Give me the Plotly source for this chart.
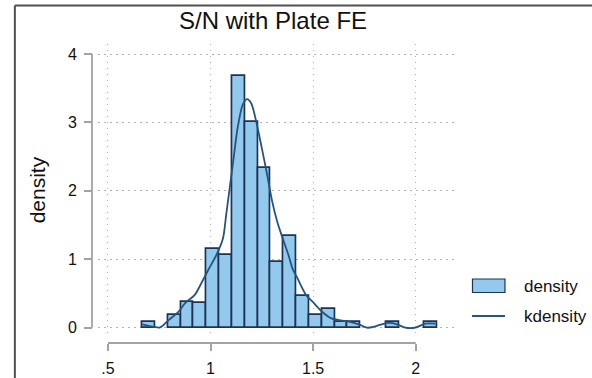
import numpy as np
import plotly.graph_objects as go

# Histogram of S/N (plate fixed effects): 23 equal-width bins
bin_start = 0.668
bin_width = 0.0625
bin_density = [0.09, 0.0, 0.18, 0.37, 0.36, 1.15, 1.06, 3.68, 3.01, 2.33,
               0.96, 1.34, 0.47, 0.18, 0.27, 0.09, 0.09, 0.0, 0.0, 0.09,
               0.0, 0.0, 0.09]

# Kernel density estimate evaluated along the data range
kd_x = [0.668, 0.71, 0.754, 0.795, 0.843, 0.876, 0.923, 0.955, 0.988, 1.028,
        1.06, 1.077, 1.109, 1.133, 1.157, 1.178, 1.198, 1.222, 1.25, 1.275,
        1.30, 1.325, 1.35, 1.38, 1.40, 1.424, 1.465, 1.497, 1.545, 1.586,
        1.626, 1.675, 1.723, 1.763, 1.803, 1.835, 1.868, 1.909, 1.949, 1.998,
        2.047, 2.095]
kd_y = [0.05, 0.02, 0.005, 0.11, 0.23, 0.36, 0.48, 0.65, 0.84, 1.06,
        1.30, 1.67, 2.40, 2.94, 3.26, 3.34, 3.28, 3.02, 2.62, 2.25,
        1.85, 1.55, 1.32, 1.06, 0.86, 0.72, 0.48, 0.38, 0.23, 0.14,
        0.11, 0.09, 0.05, 0.0, 0.02, 0.05, 0.07, 0.05, 0.0, 0.0,
        0.06, 0.06]

x_ticks = [0.5, 1.0, 1.5, 2.0]
x_ticktext = [".5", "1", "1.5", "2"]
y_ticks = [0, 1, 2, 3, 4]

title_text = "S/N with Plate FE"
y_title = "density"
legend_labels = ["density", "kdensity"]

BAR_FILL = "#92C9EC"
BAR_EDGE = "#1C3356"
KD_LINE = "#24557F"
AXIS_COL = "#a3a3a3"
GRID_COL = "#b4b4b4"
FONT = "Liberation Sans, Arial, Helvetica, sans-serif"

W, H = 592, 378
# pixel frame of the plotting "paper"
PX_L, PX_R, PX_T, PX_B = 91.7, 455.0, 44.0, 343.0


def px_x(p):
    return (p - PX_L) / (PX_R - PX_L)


def px_y(p):
    return (PX_B - p) / (PX_B - PX_T)


dens = np.array(bin_density)
centers = bin_start + bin_width * (np.arange(len(dens)) + 0.5)
keep = dens > 0

fig = go.Figure()
fig.add_trace(go.Bar(
    x=centers[keep], y=dens[keep], width=bin_width,
    marker=dict(color=BAR_FILL, line=dict(color=BAR_EDGE, width=1.7)),
    name=legend_labels[0], showlegend=False,
))
fig.add_trace(go.Scatter(
    x=kd_x, y=kd_y, mode="lines",
    line=dict(color=KD_LINE, width=1.8, shape="spline", smoothing=0.8),
    name=legend_labels[1], showlegend=False,
))

shapes = [
    # axis lines spanning the labelled range only
    dict(type="line", xref="x", yref="paper", x0=x_ticks[0], x1=x_ticks[-1],
         y0=0, y1=0, line=dict(color=AXIS_COL, width=1.8)),
    dict(type="line", xref="paper", yref="y", x0=0, x1=0,
         y0=y_ticks[0], y1=y_ticks[-1], line=dict(color=AXIS_COL, width=1.8)),
    # outer frame
    dict(type="line", xref="paper", yref="paper", x0=px_x(14.5), x1=px_x(600),
         y0=px_y(5.5), y1=px_y(5.5), line=dict(color="#505050", width=2)),
    dict(type="line", xref="paper", yref="paper", x0=px_x(14.5), x1=px_x(14.5),
         y0=px_y(5.5), y1=px_y(390), line=dict(color="#505050", width=2)),
    # legend keys
    dict(type="rect", xref="paper", yref="paper",
         x0=px_x(472.5), x1=px_x(505), y0=px_y(279), y1=px_y(292.5),
         fillcolor=BAR_FILL, line=dict(color=BAR_EDGE, width=1.2)),
    dict(type="line", xref="paper", yref="paper",
         x0=px_x(472), x1=px_x(505), y0=px_y(316), y1=px_y(316),
         line=dict(color=KD_LINE, width=1.8)),
]

annotations = [
    dict(text=title_text, xref="paper", yref="paper", x=px_x(273), y=px_y(20),
         xanchor="center", yanchor="middle", showarrow=False,
         font=dict(family=FONT, size=24, color="#111")),
    dict(text=y_title, xref="paper", yref="paper", x=px_x(37), y=px_y(190),
         xanchor="center", yanchor="middle", textangle=-90, showarrow=False,
         font=dict(family=FONT, size=21, color="#111")),
    dict(text=legend_labels[0], xref="paper", yref="paper", x=px_x(522), y=px_y(286),
         xanchor="left", yanchor="middle", showarrow=False,
         font=dict(family=FONT, size=17, color="#111")),
    dict(text=legend_labels[1], xref="paper", yref="paper", x=px_x(522), y=px_y(316),
         xanchor="left", yanchor="middle", showarrow=False,
         font=dict(family=FONT, size=17, color="#111")),
]

x_scale = (415.7 - 107.7) / 1.5
y_scale = (327.7 - 54.0) / 4.0

fig.update_layout(
    width=W, height=H,
    margin=dict(l=PX_L, r=W - PX_R, t=PX_T, b=H - PX_B, pad=0,
                autoexpand=False),
    paper_bgcolor="white", plot_bgcolor="white",
    bargap=0, showlegend=False,
    font=dict(family=FONT, color="#111"),
    xaxis=dict(
        domain=[px_x(98), 1], anchor="free", position=0, automargin=False,
        range=[0.5 - (107.7 - 98) / x_scale, 2.0 + (455 - 415.7) / x_scale],
        tickvals=x_ticks, ticktext=x_ticktext,
        ticks="outside", ticklen=7, tickwidth=1.8, tickcolor=AXIS_COL,
        showline=False, zeroline=False,
        showgrid=True, gridcolor=GRID_COL, gridwidth=1.3, griddash="1.3px,4.7px",
        tickfont=dict(family=FONT, size=16, color="#111"),
        ticklabelstandoff=4,
    ),
    yaxis=dict(
        domain=[px_y(336), 1], anchor="free", position=0, automargin=False,
        range=[-(336 - 327.7) / y_scale, 4 + (54 - 44) / y_scale],
        tickvals=y_ticks,
        ticks="outside", ticklen=8, tickwidth=1.8, tickcolor=AXIS_COL,
        showline=False, zeroline=False,
        showgrid=True, gridcolor=GRID_COL, gridwidth=1.3, griddash="1.3px,4.7px",
        tickfont=dict(family=FONT, size=16, color="#111"),
        ticklabelstandoff=4,
    ),
    shapes=shapes,
    annotations=annotations,
)

fig.write_html("out.html")
